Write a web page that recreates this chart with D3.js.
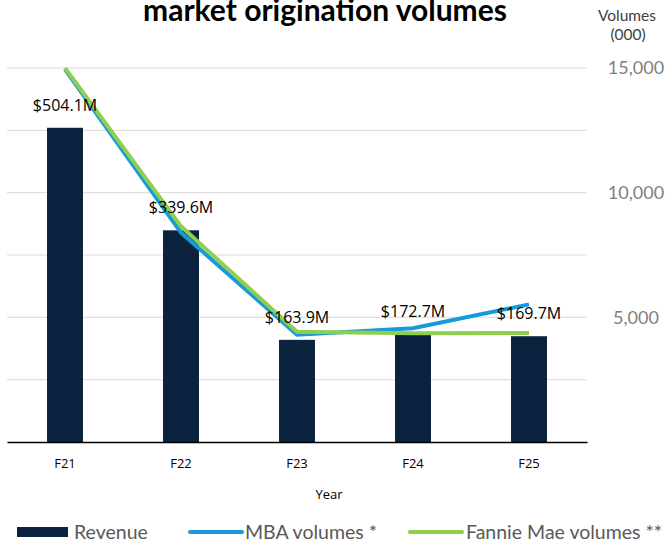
<!DOCTYPE html>
<html>
<head>
<meta charset="utf-8">
<script src="https://cdn.jsdelivr.net/npm/d3@7"></script>
<style>
  body { margin: 0; background: #fff; }
  svg { display: block; }
</style>
</head>
<body>
<script>
// chart data
var years = ["F21", "F22", "F23", "F24", "F25"];
var revenue = [504.1, 339.6, 163.9, 172.7, 169.7];          // $M, left (hidden) axis
var revenueLabels = ["$504.1M", "$339.6M", "$163.9M", "$172.7M", "$169.7M"];
var mbaVolumes = [14950, 8400, 4300, 4560, 5520];            // 000s, right axis
var fannieVolumes = [15000, 8650, 4420, 4360, 4370];
var rightTicks = [5000, 10000, 15000];
var gridTicks = [0, 2500, 5000, 7500, 10000, 12500, 15000];

var w = 668;
var h = 545;
var plotLeft = 7, plotRight = 587, plotTop = 68, plotBottom = 442;

var svg = d3.select("body")
  .append("svg")
  .attr("width", w)
  .attr("height", h);

// scales
var xScale = d3.scaleBand()
  .domain(years)
  .range([plotLeft, plotRight])
  .paddingInner(0.69)
  .paddingOuter(0.345);

var yLeft = d3.scaleLinear().domain([0, 600]).range([plotBottom, plotTop]);
var yRight = d3.scaleLinear().domain([0, 15000]).range([plotBottom, plotTop]);

// gridlines
svg.append("g")
  .selectAll("line")
  .data(gridTicks.slice(1))
  .enter()
  .append("line")
  .attr("x1", plotLeft)
  .attr("x2", plotRight)
  .attr("y1", function(d) { return yRight(d); })
  .attr("y2", function(d) { return yRight(d); })
  .attr("stroke", "#d9d9d9")
  .attr("stroke-width", 1);

// bars
svg.append("g")
  .selectAll("rect")
  .data(revenue)
  .enter()
  .append("rect")
  .attr("x", function(d, i) { return xScale(years[i]); })
  .attr("y", function(d) { return yLeft(d); })
  .attr("width", xScale.bandwidth())
  .attr("height", function(d) { return plotBottom - yLeft(d); })
  .attr("fill", "#0c2340");

// x axis
var xAxis = d3.axisBottom(xScale).tickSize(0).tickPadding(17);
var gx = svg.append("g")
  .attr("transform", "translate(0," + plotBottom + ")")
  .call(xAxis);
gx.select(".domain").attr("stroke", "#000").attr("stroke-width", 1.6);
gx.selectAll("text")
  .attr("font-family", "Open Sans")
  .attr("font-size", 13)
  .attr("fill", "#000");

// right axis
var yAxis = d3.axisRight(yRight)
  .tickValues(rightTicks)
  .tickSize(0)
  .tickFormat(d3.format(","));
var gy = svg.append("g")
  .attr("transform", "translate(636,0)")
  .call(yAxis);
gy.select(".domain").remove();
gy.selectAll("text")
  .attr("x", 0)
  .attr("text-anchor", "middle")
  .attr("font-family", "Lato")
  .attr("font-size", 18)
  .attr("fill", "#7f7f7f");

// lines
var line = d3.line()
  .x(function(d, i) { return xScale(years[i]) + xScale.bandwidth() / 2; })
  .y(function(d) { return yRight(d); });

svg.append("path")
  .datum(mbaVolumes)
  .attr("d", line)
  .attr("fill", "none")
  .attr("stroke", "#169bd8")
  .attr("stroke-width", 4);

svg.append("path")
  .datum(fannieVolumes)
  .attr("d", line)
  .attr("fill", "none")
  .attr("stroke", "#8fcf50")
  .attr("stroke-width", 4);

// bar labels
svg.append("g")
  .selectAll("text")
  .data(revenue)
  .enter()
  .append("text")
  .attr("x", function(d, i) { return xScale(years[i]) + xScale.bandwidth() / 2; })
  .attr("y", function(d) { return yLeft(d) - 17; })
  .attr("text-anchor", "middle")
  .attr("font-family", "Open Sans")
  .attr("font-size", 16)
  .attr("fill", "#000")
  .text(function(d, i) { return revenueLabels[i]; });

// title (first line clipped above)
svg.append("text")
  .attr("x", 325)
  .attr("y", 21)
  .attr("text-anchor", "middle")
  .attr("font-family", "Lato")
  .attr("font-weight", "bold")
  .attr("font-size", 30)
  .attr("fill", "#000")
  .text("market origination volumes");

// right axis title
svg.append("text")
  .attr("x", 627)
  .attr("y", 21)
  .attr("text-anchor", "middle")
  .attr("font-family", "Lato")
  .attr("font-size", 15.5)
  .attr("fill", "#404040")
  .text("Volumes");
svg.append("text")
  .attr("x", 628)
  .attr("y", 40)
  .attr("text-anchor", "middle")
  .attr("font-family", "Lato")
  .attr("font-size", 15.5)
  .attr("fill", "#404040")
  .text("(000)");

// x axis title
svg.append("text")
  .attr("x", 329)
  .attr("y", 499)
  .attr("text-anchor", "middle")
  .attr("font-family", "Open Sans")
  .attr("font-size", 13)
  .attr("fill", "#000")
  .text("Year");

// legend
var legend = svg.append("g").attr("transform", "translate(0,532)");
legend.append("rect")
  .attr("x", 17).attr("y", -5)
  .attr("width", 51).attr("height", 10)
  .attr("fill", "#0c2340");
legend.append("line")
  .attr("x1", 190).attr("x2", 242)
  .attr("stroke", "#169bd8").attr("stroke-width", 4)
  .attr("stroke-linecap", "round");
legend.append("line")
  .attr("x1", 410).attr("x2", 462)
  .attr("stroke", "#8fcf50").attr("stroke-width", 4)
  .attr("stroke-linecap", "round");
legend.selectAll("text")
  .data([["Revenue", 74], ["MBA volumes *", 245], ["Fannie Mae volumes **", 466]])
  .enter()
  .append("text")
  .attr("x", function(d) { return d[1]; })
  .attr("y", 6.5)
  .attr("font-family", "Lato")
  .attr("font-size", 19.5)
  .attr("fill", "#595959")
  .text(function(d) { return d[0]; });
</script>
</body>
</html>
